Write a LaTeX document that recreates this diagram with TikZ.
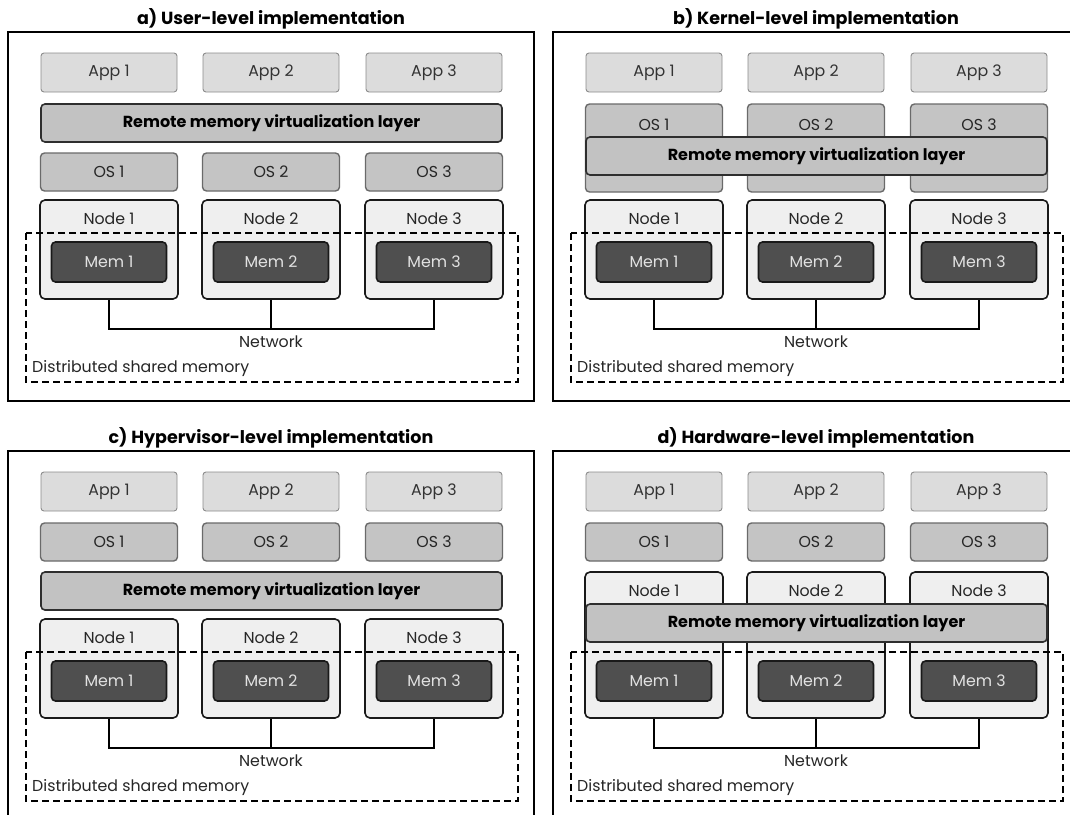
\documentclass[tikz,border=0pt]{standalone}
\usepackage{fontspec}
\setsansfont{Poppins}
\usetikzlibrary{positioning}

\definecolor{appfill}{HTML}{DCDCDC}
\definecolor{appline}{HTML}{8C8C8C}
\definecolor{osfill}{HTML}{C4C4C4}
\definecolor{osline}{HTML}{6A6A6A}
\definecolor{vmfill}{HTML}{C2C2C2}
\definecolor{vmline}{HTML}{2E2E2E}
\definecolor{hostfill}{HTML}{EFEFEF}
\definecolor{memfill}{HTML}{4F4F4F}
\definecolor{memtext}{HTML}{E2E2E2}

\begin{document}
\begin{tikzpicture}[x=1pt, y=-1pt,
	every node/.style={font=\sffamily\fontsize{15.8}{18}\selectfont, inner sep=0pt},
	appbox/.style={draw=appline, fill=appfill, line width=0.9pt, rounded corners=3pt, minimum width=136pt, minimum height=39pt, text=black!80},
	osbox/.style={draw=osline, fill=osfill, line width=1.4pt, rounded corners=4pt, minimum width=137pt, text=black!85},
	vmlayer/.style={draw=vmline, fill=vmfill, line width=1.6pt, rounded corners=4pt, minimum width=461pt, minimum height=38pt, font=\sffamily\bfseries\fontsize{16}{18}\selectfont},
	hostbox/.style={draw=black!90, fill=hostfill, line width=1.6pt, rounded corners=5pt, minimum width=138pt},
	membox/.style={draw=black!90, fill=memfill, line width=1.6pt, rounded corners=4pt, minimum width=115pt, minimum height=40pt, text=memtext},
	ttl/.style={font=\sffamily\bfseries\fontsize{17.5}{20}\selectfont},
	lbl/.style={text=black!85}]

	\clip (0,0) rectangle (1070,814);
	\fill[white] (0,0) rectangle (1070,814);

	% frames, titles and applications
	\foreach \p/\dx/\dy/\lvl in {a/0/0/User, b/545/0/Kernel, c/0/419/Hypervisor, d/545/419/Hardware} {
		\begin{scope}[shift={(\dx,\dy)}]
			\node[ttl] (\p-title) at (271,19) {\p) \lvl-level implementation};
			\draw[line width=1.3pt] (8,32) rectangle (534,401);
			\foreach \i/\x in {1/109, 2/271, 3/434}
				\node[appbox] (\p-app\i) at (\x,72.5) {App \i};
		\end{scope}
	}

	% a) user level
	\node[vmlayer] (a-vm) at (271.5,123) {Remote memory virtualization layer};
	\foreach \i/\x in {1/109, 2/271, 3/434} {
		\node[osbox, minimum height=38pt] (a-os\i) at (\x,172) {OS \i};
		\node[hostbox, minimum height=99pt] (a-host\i) at (\x,249.5) {};
		\node[lbl] (a-hostlbl\i) at (\x,219) {Node \i};
	}

	% b) kernel level
	\begin{scope}[shift={(545,0)}]
		\foreach \i/\x in {1/109, 2/271, 3/434} {
			\node[osbox, minimum height=88pt] (b-os\i) at (\x,148) {};
			\node[lbl] (b-oslbl\i) at (\x,125) {OS \i};
			\node[hostbox, minimum height=99pt] (b-host\i) at (\x,249.5) {};
			\node[lbl] (b-hostlbl\i) at (\x,219) {Node \i};
		}
		\node[vmlayer] (b-vm) at (271.5,156) {Remote memory virtualization layer};
	\end{scope}

	% c) hypervisor level
	\begin{scope}[shift={(0,419)}]
		\foreach \i/\x in {1/109, 2/271, 3/434} {
			\node[osbox, minimum height=38pt] (c-os\i) at (\x,123) {OS \i};
			\node[hostbox, minimum height=99pt] (c-host\i) at (\x,249.5) {};
			\node[lbl] (c-hostlbl\i) at (\x,219) {Node \i};
		}
		\node[vmlayer] (c-vm) at (271.5,172) {Remote memory virtualization layer};
	\end{scope}

	% d) hardware level
	\begin{scope}[shift={(545,419)}]
		\foreach \i/\x in {1/109, 2/271, 3/434} {
			\node[osbox, minimum height=38pt] (d-os\i) at (\x,123) {OS \i};
			\node[hostbox, minimum height=146pt] (d-host\i) at (\x,226) {};
			\node[lbl] (d-hostlbl\i) at (\x,172) {Node \i};
		}
		\node[vmlayer] (d-vm) at (271.5,204) {Remote memory virtualization layer};
	\end{scope}

	% memories, shared region and network
	\foreach \p/\dx/\dy in {a/0/0, b/545/0, c/0/419, d/545/419} {
		\begin{scope}[shift={(\dx,\dy)}]
			\foreach \i/\x in {1/109, 2/271, 3/434}
				\node[membox] (\p-mem\i) at (\x,262) {Mem \i};
			\draw[line width=1.3pt, dash pattern=on 7pt off 4pt] (26,233) rectangle (518,382);
			\coordinate (\p-net) at (271,329);
			\draw[line width=1.3pt] (\p-host1.south) |- (\p-net) -| (\p-host3.south);
			\draw[line width=1.3pt] (\p-host2.south) -- (\p-net);
			\node[lbl] (\p-netlbl) at (271,342) {Network};
			\node[lbl, anchor=west] (\p-dsm) at (32,369) {Distributed shared memory};
		\end{scope}
	}
\end{tikzpicture}
\end{document}
